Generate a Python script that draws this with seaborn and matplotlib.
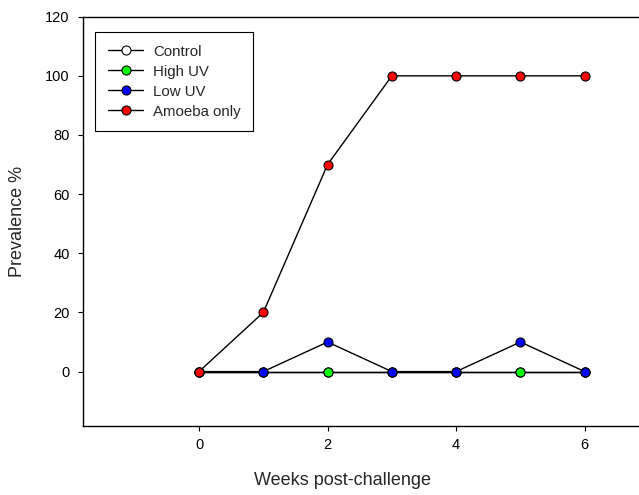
import numpy as np
import pandas as pd
import seaborn as sns
import matplotlib.pyplot as plt

weeks = [0, 1, 2, 3, 4, 5, 6]
control = [0, 0, 0, 0, 0, 0, 0]
high_uv = [0, 0, 0, 0, 0, 0, 0]
low_uv = [0, 0, 10, 0, 0, 10, 0]
amoeba_only = [0, 20, 70, 100, 100, 100, 100]

series = [("Control", control, "white"),
          ("High UV", high_uv, "#00ff00"),
          ("Low UV", low_uv, "#0000ff"),
          ("Amoeba only", amoeba_only, "#ff0000")]

sns.set_style("ticks")
plt.rcParams['font.family'] = ['Liberation Sans', 'DejaVu Sans']

fig = plt.figure(figsize=(6.39, 4.95), dpi=100)
ax = fig.add_axes([83.3 / 639, 69 / 495, (649 - 83.3) / 639, (426 - 16.7) / 495])

for name, vals, col in series:
    sns.lineplot(x=weeks, y=vals, ax=ax, color="black", linewidth=1,
                 marker="o", markersize=6.5, markerfacecolor=col,
                 markeredgecolor="black", markeredgewidth=0.8, label=name)

ax.set_xlim(-1.8, 7)
ax.set_ylim(-18.4, 120)
ax.set_xticks([0, 2, 4, 6])
ax.set_yticks([0, 20, 40, 60, 80, 100, 120])
ax.tick_params(direction="out", length=3.8, width=0.8, labelsize=10.5, colors="black")
ax.tick_params(axis="x", pad=5)
ax.tick_params(axis="y", pad=6)
for s in ax.spines.values():
    s.set_color("black")
    s.set_linewidth(1)
ax.set_xlabel("Weeks post-challenge", fontsize=13)
ax.set_ylabel("Prevalence %", fontsize=13, labelpad=14)
ax.xaxis.set_label_coords((343 - 83.3) / 565.7, -0.112)

leg = ax.legend(loc="upper left", bbox_to_anchor=(0.021, 0.963), fontsize=10.8,
                frameon=True, fancybox=False, edgecolor="black", framealpha=1,
                handlelength=2.35, borderpad=0.85, labelspacing=0.4,
                handletextpad=0.65, borderaxespad=0)
leg.get_frame().set_linewidth(0.8)

fig.savefig("out.png", dpi=100)
